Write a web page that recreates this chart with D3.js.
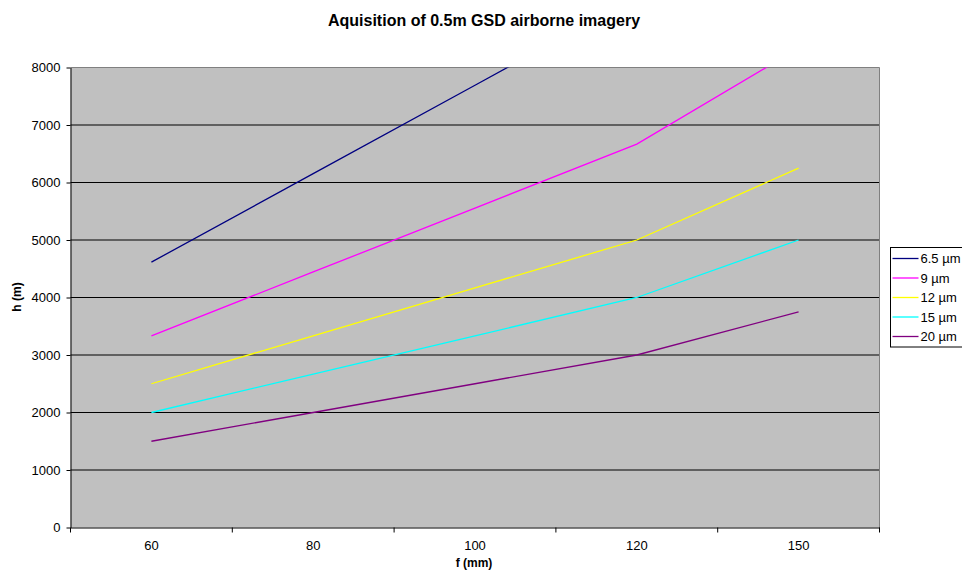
<!DOCTYPE html>
<html>
<head>
<meta charset="utf-8">
<script src="https://cdn.jsdelivr.net/npm/d3@7"></script>
<style>
  body { margin: 0; background: #fff; }
  svg { font-family: "Liberation Sans", Arial, sans-serif; }
</style>
</head>
<body>
<svg id="chart" width="962" height="577"></svg>
<script>
// focal lengths (category axis)
const categories = ['60', '80', '100', '120', '150'];
const seriesNames = ['6.5 µm', '9 µm', '12 µm', '15 µm', '20 µm'];
const seriesColors = ['#000080', '#ff00ff', '#ffff00', '#00ffff', '#800080'];
const s65 = [4615, 6154, 7692, 9231, 11538];
const s9 = [3333, 4444, 5556, 6667, 8333];
const s12 = [2500, 3333, 4167, 5000, 6250];
const s15 = [2000, 2667, 3333, 4000, 5000];
const s20 = [1500, 2000, 2500, 3000, 3750];
const yTicks = [0, 1000, 2000, 3000, 4000, 5000, 6000, 7000, 8000];

const series = [s65, s9, s12, s15, s20].map((v, i) => ({
    name: seriesNames[i], color: seriesColors[i], values: v
}));

const margin = { left: 70.5, top: 67.5, right: 962 - 879.5, bottom: 577 - 527.5 };
const width = 962, height = 577;
const innerW = width - margin.left - margin.right;
const innerH = height - margin.top - margin.bottom;

const svg = d3.select('#chart');

svg.append('text')
    .attr('x', 484).attr('y', 26)
    .attr('text-anchor', 'middle')
    .attr('font-size', 16).attr('font-weight', 'bold')
    .text('Aquisition of 0.5m GSD airborne imagery');

const chart = svg.append('g')
    .attr('transform', `translate(${margin.left},${margin.top})`);

const xscale = d3.scaleBand().domain(categories).range([0, innerW]);
const yscale = d3.scaleLinear().domain([0, 8000]).range([innerH, 0]);

chart.append('rect')
    .attr('width', innerW).attr('height', innerH)
    .attr('fill', '#c0c0c0');

// gridlines
chart.selectAll('.grid').data(yTicks.filter(d => d > 0 && d < 8000)).enter()
    .append('line')
    .attr('x1', 0).attr('x2', innerW)
    .attr('y1', d => yscale(d)).attr('y2', d => yscale(d))
    .attr('stroke', '#000').attr('stroke-width', 1);

// plot border top/right
chart.append('path')
    .attr('d', `M0,0H${innerW}V${innerH}`)
    .attr('fill', 'none').attr('stroke', '#808080');

chart.append('clipPath').attr('id', 'clip')
    .append('rect').attr('width', innerW).attr('height', innerH);

const line = d3.line()
    .x((d, i) => xscale(categories[i]) + xscale.bandwidth() / 2)
    .y(d => yscale(d));

chart.append('g').attr('clip-path', 'url(#clip)')
    .selectAll('path').data(series).enter()
    .append('path')
    .attr('d', d => line(d.values))
    .attr('fill', 'none')
    .attr('stroke', d => d.color)
    .attr('stroke-width', 1.3);

// axes
const yaxis = d3.axisLeft(yscale).tickValues(yTicks).tickFormat(d3.format('d'))
    .tickSize(4).tickSizeOuter(0).tickPadding(6);
const yg = chart.append('g').call(yaxis);
yg.select('.domain').attr('stroke', '#000');
yg.selectAll('text').attr('font-size', 13).attr('font-family', '"Liberation Sans", Arial, sans-serif');

const xaxis = d3.axisBottom(xscale).tickSize(0).tickPadding(13);
const xg = chart.append('g').attr('transform', `translate(0,${innerH})`).call(xaxis);
xg.selectAll('text').attr('font-size', 13).attr('font-family', '"Liberation Sans", Arial, sans-serif');
// tick marks between categories
const bounds = categories.map(c => xscale(c)).concat([innerW]);
xg.selectAll('.bound').data(bounds).enter()
    .append('line')
    .attr('x1', d => d).attr('x2', d => d)
    .attr('y1', 0).attr('y2', 5)
    .attr('stroke', '#000');

svg.append('text')
    .attr('x', 474).attr('y', 567)
    .attr('text-anchor', 'middle')
    .attr('font-size', 12).attr('font-weight', 'bold')
    .text('f (mm)');

svg.append('text')
    .attr('transform', 'translate(21,297) rotate(-90)')
    .attr('text-anchor', 'middle')
    .attr('font-size', 12).attr('font-weight', 'bold')
    .text('h (m)');

// legend
const legend = svg.append('g').attr('transform', 'translate(890.5,247.5)');
legend.append('rect')
    .attr('width', 90).attr('height', 99.5)
    .attr('fill', '#fff').attr('stroke', '#000');
const item = legend.selectAll('.item').data(series).enter()
    .append('g')
    .attr('transform', (d, i) => `translate(0,${11 + i * 19.5})`);
item.append('line')
    .attr('x1', 2).attr('x2', 28)
    .attr('stroke', d => d.color).attr('stroke-width', 1.3);
item.append('text')
    .attr('x', 30).attr('y', 4.5)
    .attr('font-size', 13)
    .text(d => d.name);
</script>
</body>
</html>
